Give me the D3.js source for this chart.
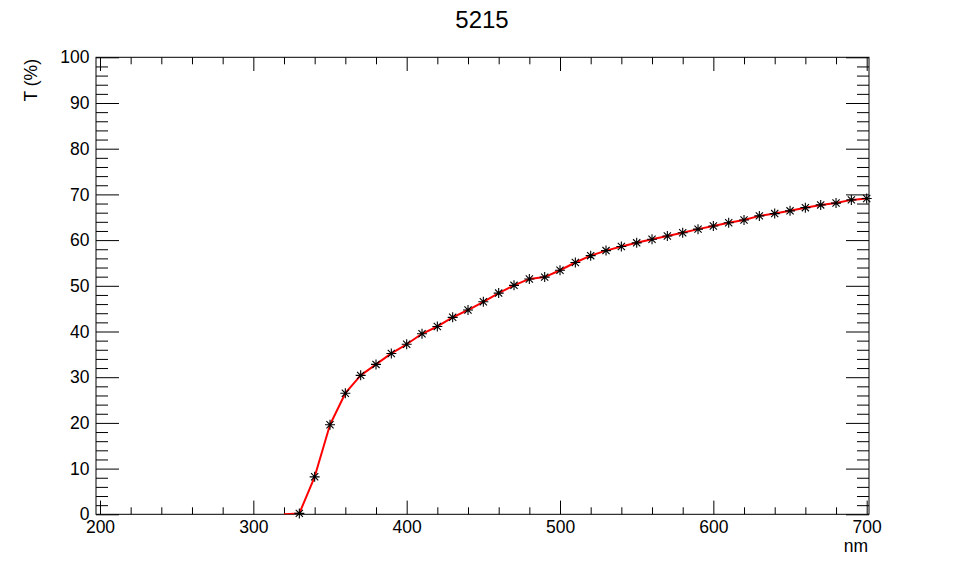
<!DOCTYPE html>
<html>
<head>
<meta charset="utf-8">
<script src="https://cdn.jsdelivr.net/npm/d3@7"></script>
<style>
  html, body { margin: 0; padding: 0; background: #fff; }
  svg { display: block; font-family: "Liberation Sans", Arial, Helvetica, sans-serif; }
</style>
</head>
<body>
<svg id="chart" width="966" height="572"></svg>
<script>
// ---- data ----
const title = "5215";
const xTitle = "nm";
const yTitle = "T (%)";
const wavelengths = [320, 330, 340, 350, 360, 370, 380, 390, 400, 410, 420, 430, 440, 450, 460, 470, 480, 490, 500,
  510, 520, 530, 540, 550, 560, 570, 580, 590, 600, 610, 620, 630, 640, 650, 660, 670, 680, 690, 700];
const transmission = [0, 0.2, 8.2, 19.6, 26.5, 30.4, 32.8, 35.2, 37.2, 39.5, 41.1, 43.1, 44.7, 46.5, 48.4, 50.1, 51.5, 51.9, 53.4,
  55.1, 56.6, 57.7, 58.6, 59.4, 60.2, 60.9, 61.6, 62.4, 63.1, 63.8, 64.4, 65.3, 65.8, 66.4, 67.1, 67.7, 68.1, 68.8, 69.1];
const xDomain = [197.4, 701.5];
const yDomain = [0, 100];
const xMajorTicks = [200, 300, 400, 500, 600, 700];
const yMajorTicks = [0, 10, 20, 30, 40, 50, 60, 70, 80, 90, 100];
const xMinorStep = 20;
const yMinorStep = 2;

// ---- layout ----
const pLeft = 96, pRight = 869, pTop = 57.3, pBottom = 514.3;
const svg = d3.select("#chart");
svg.append("rect").attr("width", 966).attr("height", 572).attr("fill", "#fff");

const x = d3.scaleLinear().domain(xDomain).range([pLeft, pRight]);
const y = d3.scaleLinear().domain(yDomain).range([pBottom, pTop]);

const xMinorTicks = d3.range(Math.ceil(xDomain[0] / xMinorStep) * xMinorStep, xDomain[1] + 1e-9, xMinorStep)
  .filter(v => !xMajorTicks.includes(v));
const yMinorTicks = d3.range(yDomain[0], yDomain[1] + 1e-9, yMinorStep)
  .filter(v => !yMajorTicks.includes(v));

const xMajLen = 13.7, xMinLen = 7, yMajLen = 23, yMinLen = 12;
const labelFont = "17.5px";

function styleAxis(g) {
  g.select(".domain").remove();
  g.selectAll(".tick line").attr("stroke", "#000").attr("stroke-width", 1);
  g.selectAll(".tick text").attr("fill", "#000").attr("font-size", labelFont)
    .attr("font-family", '"Liberation Sans", Arial, Helvetica, sans-serif');
}

// bottom axis
svg.append("g").attr("transform", `translate(0,${pBottom})`)
  .call(d3.axisBottom(x).tickValues(xMajorTicks).tickSize(-xMajLen).tickPadding(6).tickFormat(d3.format("d")))
  .call(styleAxis);
svg.append("g").attr("transform", `translate(0,${pBottom})`)
  .call(d3.axisBottom(x).tickValues(xMinorTicks).tickSize(-xMinLen).tickFormat(""))
  .call(styleAxis);
// top axis
svg.append("g").attr("transform", `translate(0,${pTop})`)
  .call(d3.axisTop(x).tickValues(xMajorTicks).tickSize(-xMajLen).tickFormat(""))
  .call(styleAxis);
svg.append("g").attr("transform", `translate(0,${pTop})`)
  .call(d3.axisTop(x).tickValues(xMinorTicks).tickSize(-xMinLen).tickFormat(""))
  .call(styleAxis);
// left axis
svg.append("g").attr("transform", `translate(${pLeft},0)`)
  .call(d3.axisLeft(y).tickValues(yMajorTicks).tickSize(-yMajLen).tickPadding(6.5).tickFormat(d3.format("d")))
  .call(styleAxis);
svg.append("g").attr("transform", `translate(${pLeft},0)`)
  .call(d3.axisLeft(y).tickValues(yMinorTicks).tickSize(-yMinLen).tickFormat(""))
  .call(styleAxis);
// right axis
svg.append("g").attr("transform", `translate(${pRight},0)`)
  .call(d3.axisRight(y).tickValues(yMajorTicks).tickSize(-yMajLen).tickFormat(""))
  .call(styleAxis);
svg.append("g").attr("transform", `translate(${pRight},0)`)
  .call(d3.axisRight(y).tickValues(yMinorTicks).tickSize(-yMinLen).tickFormat(""))
  .call(styleAxis);

// frame
svg.append("rect").attr("x", pLeft).attr("y", pTop).attr("width", pRight - pLeft).attr("height", pBottom - pTop)
  .attr("fill", "none").attr("stroke", "#000").attr("stroke-width", 1);

// clip
svg.append("clipPath").attr("id", "plotclip").append("rect")
  .attr("x", pLeft).attr("y", pTop).attr("width", pRight - pLeft).attr("height", pBottom - pTop);

const pts = wavelengths.map((w, i) => ({ w, t: transmission[i] }));

// line
const line = d3.line().x(d => x(d.w)).y(d => y(d.t)).curve(d3.curveLinear);
svg.append("path").datum(pts).attr("clip-path", "url(#plotclip)")
  .attr("d", line).attr("fill", "none").attr("stroke", "#ff0000").attr("stroke-width", 2)
  .attr("stroke-linejoin", "round");

// star markers (only where inside the frame, like ROOT clipping)
const r = 5, rd = 3.6;
const starPath = `M${-r},0H${r}M0,${-r}V${r}M${-rd},${-rd}L${rd},${rd}M${-rd},${rd}L${rd},${-rd}`;
svg.append("g").selectAll("path").data(pts.filter(d => d.t > yDomain[0])).join("path")
  .attr("transform", d => `translate(${x(d.w)},${y(d.t)})`)
  .attr("d", starPath).attr("fill", "none").attr("stroke", "#000").attr("stroke-width", 1.1);

// titles
svg.append("text").attr("x", 482).attr("y", 28).attr("text-anchor", "middle")
  .attr("font-size", "24px").attr("fill", "#000").text(title);
svg.append("text").attr("x", 868).attr("y", 552).attr("text-anchor", "end")
  .attr("font-size", "17.5px").attr("fill", "#000").text(xTitle);
svg.append("text").attr("transform", `translate(36.5,59) rotate(-90)`).attr("text-anchor", "end")
  .attr("font-size", "17.5px").attr("fill", "#000").text(yTitle);
</script>
</body>
</html>
